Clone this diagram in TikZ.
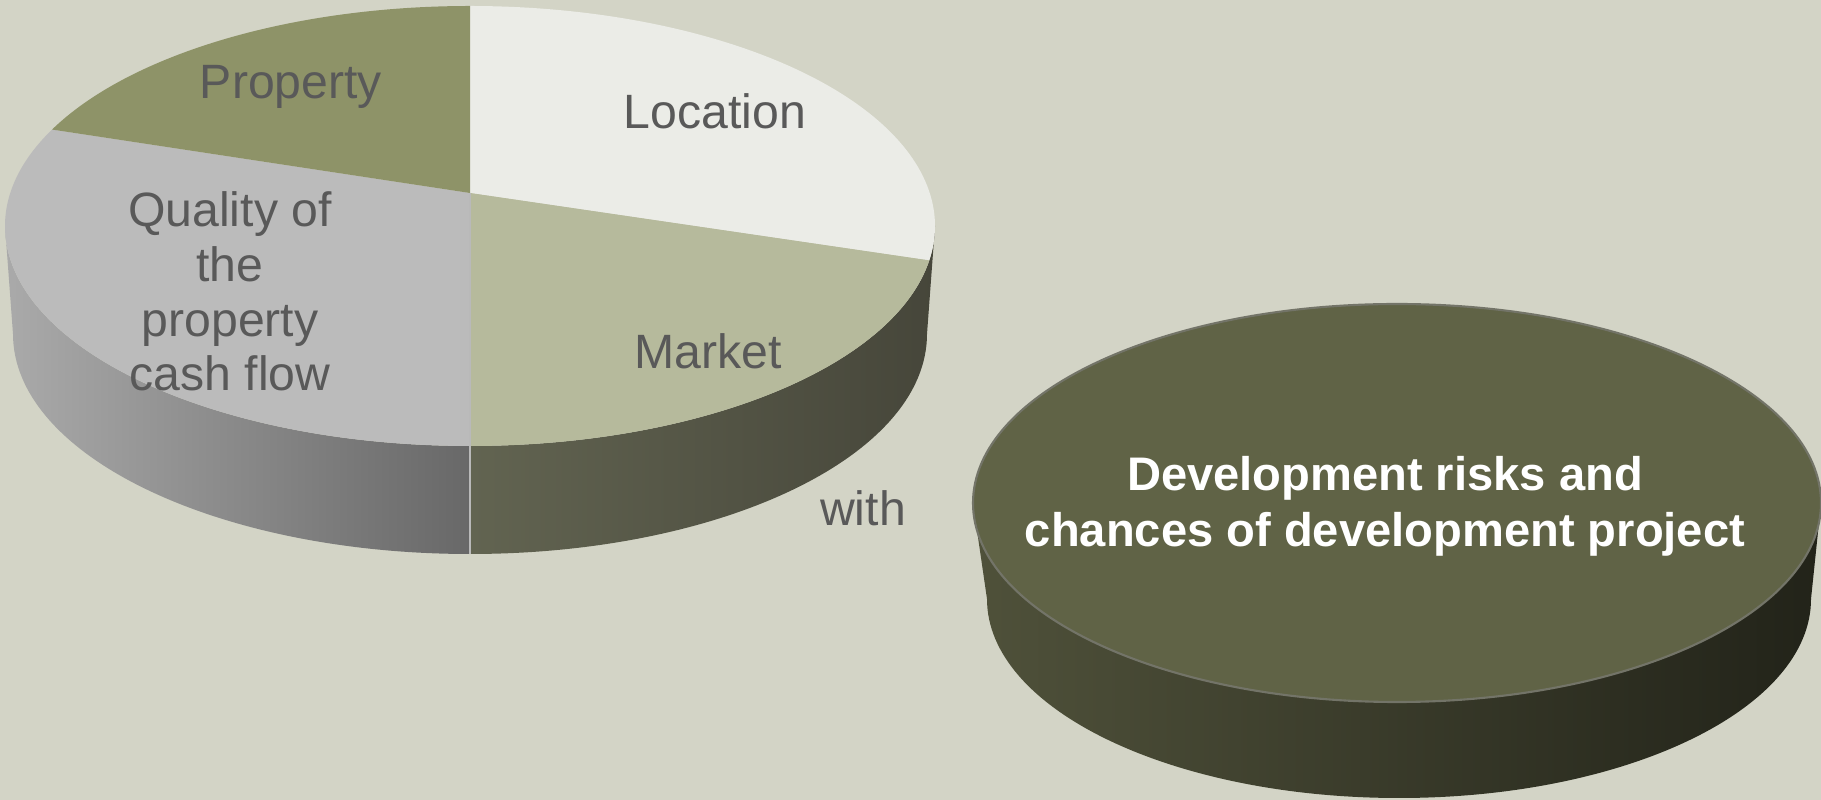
\documentclass[tikz,border=0pt]{standalone}
\usepackage{fontspec}
\setmainfont{Liberation Sans}
\usetikzlibrary{calc}

\definecolor{bg}{HTML}{D3D4C6}
\definecolor{property}{HTML}{8E9368}
\definecolor{location}{HTML}{EBECE7}
\definecolor{market}{HTML}{B6BA9C}
\definecolor{quality}{HTML}{BBBBBB}
\definecolor{txtgray}{HTML}{595959}
\definecolor{disktop}{HTML}{606346}

\tikzset{
  slicetext/.style={text=txtgray, align=center, anchor=base,
    font=\fontsize{13.7}{15.6}\selectfont},
  disktext/.style={text=white, align=center, anchor=base,
    font=\bfseries\fontsize{13.4}{16.2}\selectfont},
  divider/.style={draw=gray!55, line width=0.4pt}
}

\begin{document}
\begin{tikzpicture}[x=0.01cm, y=0.01cm]
\useasboundingbox (0,0) rectangle (1821,800);
\fill[bg] (0,0) rectangle (1821,800);

% pie: top rim centre, bottom rim centre, meeting point of the slices
\coordinate (top) at (470,574);
\coordinate (bot) at (470,466);
\coordinate (c) at (470,607);

% sides
\shade[left color={rgb,255:red,170;green,170;blue,170}, right color={rgb,255:red,104;green,104;blue,104}]
  (top) ++(180:465 and 220) arc[start angle=180, end angle=270, x radius=465, y radius=220]
  -- ++(0,-108) arc[start angle=270, end angle=180, x radius=457, y radius=220] -- cycle;
\shade[left color={rgb,255:red,98;green,100;blue,81}, right color={rgb,255:red,70;green,70;blue,58}]
  (top) ++(-90:465 and 220) arc[start angle=-90, end angle=0, x radius=465, y radius=220]
  -- ++(-8,-108) arc[start angle=0, end angle=-90, x radius=457, y radius=220] -- cycle;

% slices
\fill[location] (c) -- ($(top)+(90:465 and 220)$)
  arc[start angle=90, end angle=-9, x radius=465, y radius=220] -- cycle;
\fill[market] (c) -- ($(top)+(-9:465 and 220)$)
  arc[start angle=-9, end angle=-90, x radius=465, y radius=220] -- cycle;
\fill[quality] (c) -- ($(top)+(270:465 and 220)$)
  arc[start angle=270, end angle=154, x radius=465, y radius=220] -- cycle;
\fill[property] (c) -- ($(top)+(154:465 and 220)$)
  arc[start angle=154, end angle=90, x radius=465, y radius=220] -- cycle;
\draw[divider] (c) -- ($(top)+(270:465 and 220)$) -- ++(0,-108);

\node[slicetext] (property) at (291,701) {Property};
\node[slicetext] (location) at (715,671) {Location};
\node[slicetext] (quality) at (230,409) {Quality of\\the\\property\\cash flow};
\node[slicetext] (market) at (708,431) {Market};
\node[slicetext] (with) at (863,274) {with};

% disk
\coordinate (dtop) at (1397,297);
\shade[left color={rgb,255:red,79;green,81;blue,58}, right color={rgb,255:red,34;green,35;blue,25}]
  (dtop) ++(180:424 and 199) arc[start angle=180, end angle=360, x radius=424, y radius=199]
  -- ++(-10,-96) arc[start angle=360, end angle=180, x radius=412, y radius=199] -- cycle;
\filldraw[fill=disktop, draw=gray!60!disktop, line width=0.6pt]
  (dtop) ellipse[x radius=424, y radius=199];
\node[disktext] (risks) at (1385,253) {Development risks and\\chances of development project};
\end{tikzpicture}
\end{document}
